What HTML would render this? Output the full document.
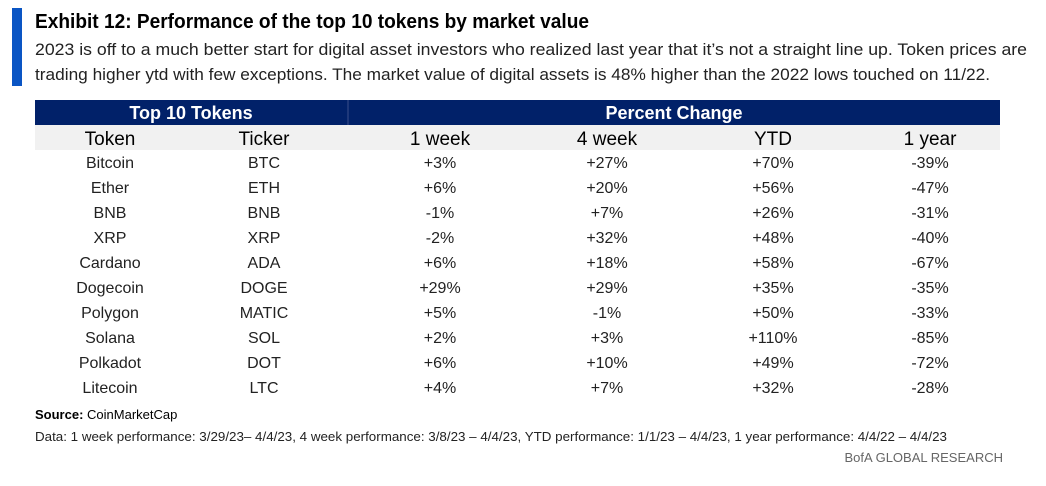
<!DOCTYPE html>
<html><head><meta charset="utf-8"><style>
html,body{margin:0;padding:0;background:#fff;width:1046px;height:486px;overflow:hidden}
svg{display:block;font-family:"Liberation Sans Narrow","Liberation Sans",sans-serif}
</style></head><body>
<svg id="s" width="1046" height="486" viewBox="0 0 1046 486">
<rect x="12" y="8" width="10" height="78" fill="#0a55c4"/>
<text x="35" y="28" font-size="20" font-weight="bold" textLength="554" lengthAdjust="spacingAndGlyphs" fill="#000">Exhibit 12: Performance of the top 10 tokens by market value</text>
<text x="35" y="55" font-size="17" textLength="992" lengthAdjust="spacingAndGlyphs" fill="#222">2023 is off to a much better start for digital asset investors who realized last year that it’s not a straight line up. Token prices are</text>
<text x="35" y="80" font-size="17" textLength="955" lengthAdjust="spacingAndGlyphs" fill="#222">trading higher ytd with few exceptions. The market value of digital assets is 48% higher than the 2022 lows touched on 11/22.</text>
<rect x="35" y="100" width="965" height="25" fill="#012169"/>
<line x1="348" y1="100" x2="348" y2="125" stroke="#3a4f8a" stroke-width="1"/>
<text x="191" y="119" font-size="18" font-weight="bold" fill="#fff" text-anchor="middle">Top 10 Tokens</text>
<text x="674" y="119" font-size="18" font-weight="bold" fill="#fff" text-anchor="middle">Percent Change</text>
<rect x="35" y="125" width="965" height="25" fill="#f1f1f1"/>
<g id="hdr"></g>
<g id="rows"></g>
<text x="35" y="419" font-size="13" fill="#000"><tspan font-weight="bold">Source:</tspan> CoinMarketCap</text>
<text x="35" y="441" font-size="13" fill="#222" textLength="912" lengthAdjust="spacingAndGlyphs">Data: 1 week performance: 3/29/23– 4/4/23, 4 week performance: 3/8/23 – 4/4/23, YTD performance: 1/1/23  – 4/4/23, 1 year performance: 4/4/22 – 4/4/23</text>
<text x="1003" y="462" font-size="13" fill="#666" text-anchor="end">BofA GLOBAL RESEARCH</text>
</svg>
<script>
const headers=["Token","Ticker","1 week","4 week","YTD","1 year"];
const tokens=["Bitcoin","Ether","BNB","XRP","Cardano","Dogecoin","Polygon","Solana","Polkadot","Litecoin"];
const tickers=["BTC","ETH","BNB","XRP","ADA","DOGE","MATIC","SOL","DOT","LTC"];
const week1=["+3%","+6%","-1%","-2%","+6%","+29%","+5%","+2%","+6%","+4%"];
const week4=["+27%","+20%","+7%","+32%","+18%","+29%","-1%","+3%","+10%","+7%"];
const ytd=["+70%","+56%","+26%","+48%","+58%","+35%","+50%","+110%","+49%","+32%"];
const year1=["-39%","-47%","-31%","-40%","-67%","-35%","-33%","-85%","-72%","-28%"];
const NS="http://www.w3.org/2000/svg";
const colX=[110,264,440,607,773,930];
const hdr=document.getElementById('hdr');
headers.forEach((h,i)=>{
  const t=document.createElementNS(NS,'text');
  t.setAttribute('x',colX[i]);t.setAttribute('y',145);t.setAttribute('font-size','19');
  t.setAttribute('text-anchor','middle');t.setAttribute('fill','#000');
  t.textContent=h;
  
  
  hdr.appendChild(t);
});
const rows=document.getElementById('rows');
const cols=[tokens,tickers,week1,week4,ytd,year1];
tokens.forEach((tk,r)=>{
  const g=document.createElementNS(NS,'g');
  
  
  const y=168+r*25;
  cols.forEach((c,i)=>{
    const t=document.createElementNS(NS,'text');
    t.setAttribute('x',colX[i]);t.setAttribute('y',y);t.setAttribute('font-size','16');
    t.setAttribute('text-anchor','middle');t.setAttribute('fill','#222');
    t.textContent=c[r];
    
    
    g.appendChild(t);
  });
  rows.appendChild(g);
});
</script>
</body></html>
